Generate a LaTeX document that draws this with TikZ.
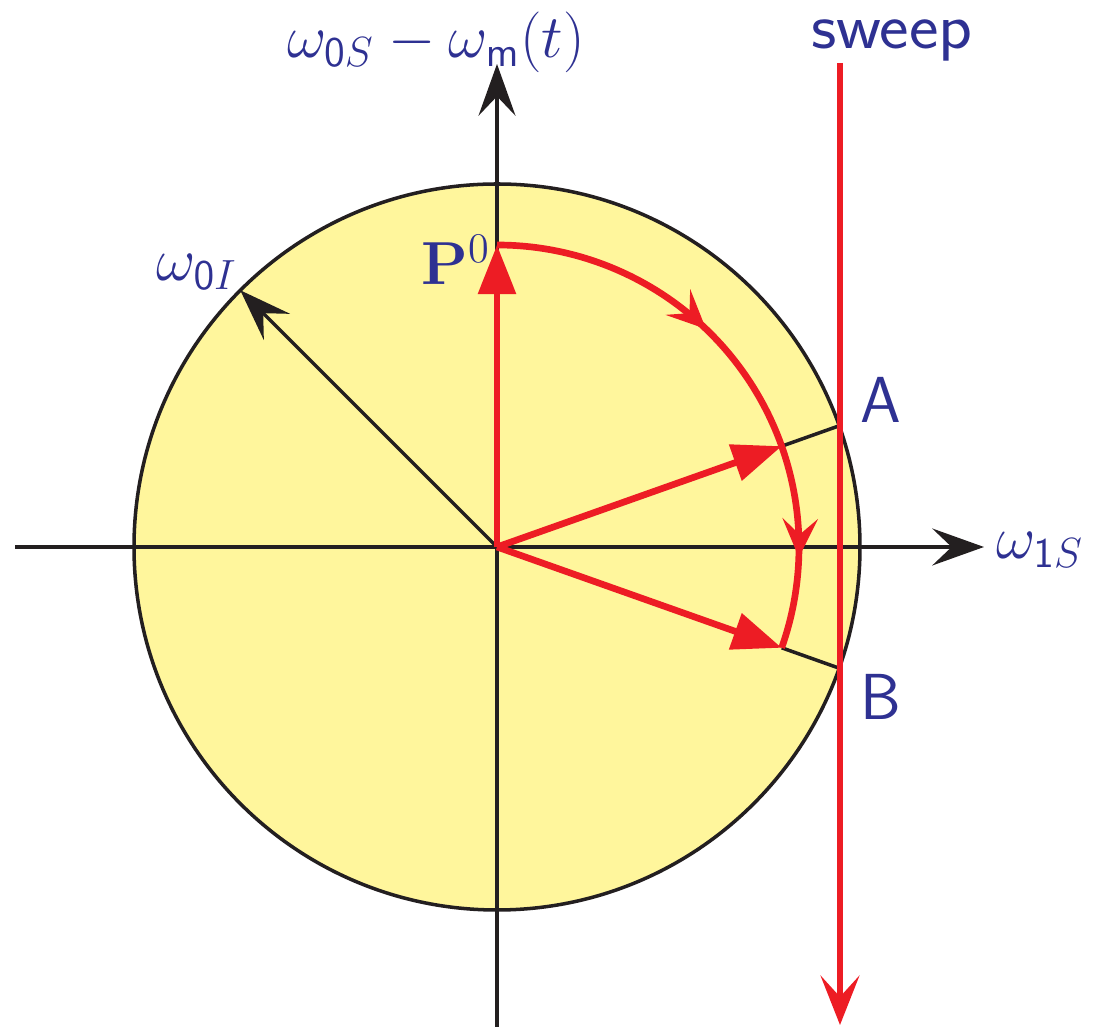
\documentclass[tikz,border=0pt]{standalone}
\usetikzlibrary{arrows.meta,decorations.markings}
\definecolor{navy}{RGB}{46,49,146}
\definecolor{rred}{RGB}{237,28,36}
\definecolor{pyellow}{RGB}{255,246,156}
\definecolor{ink}{RGB}{35,31,32}
\tikzset{
  axis/.style={draw=ink,line width=1pt,-{Stealth[length=14.7pt,width=10.5pt,inset=5.5pt]}},
  thinline/.style={draw=ink,line width=1pt},
  vec/.style={draw=rred,line width=1.9pt,-{Triangle[length=14pt,width=10.5pt]}},
  lbl/.style={text=navy,inner sep=0pt,font=\fontsize{18}{21}\selectfont},
  slbl/.style={text=navy,inner sep=0pt,font=\fontsize{18.5}{21}\selectfont\sffamily},
}
\begin{document}
\begin{tikzpicture}[x=0.01cm,y=0.01cm]
\useasboundingbox (0,0) rectangle (1108,1027);
\coordinate (O) at (497,480);
% disc
\fill[pyellow] (O) circle [radius=363];
\draw[ink,line width=1pt] (O) circle [radius=363];
% axes
\coordinate (xl) at (15,480);
\coordinate (xr) at (984,480);
\coordinate (yb) at (497,0);
\coordinate (yt) at (497,963);
\draw[axis] (xl) -- (xr);
\draw[axis] (yb) -- (yt);
% omega_0I radius
\coordinate (I) at (240.3,736.7);
\draw[axis] (O) -- (I);
% points
\coordinate (P) at (497,782);
\coordinate (Av) at (781.7,580.8);
\coordinate (Bv) at (781.7,379.2);
\coordinate (Ac) at (839.2,601.2);
\coordinate (Bc) at (839.2,358.8);
\draw[thinline] (Av) -- (Ac);
\draw[thinline] (Bv) -- (Bc);
% arc
\draw[rred,line width=1.9pt,
  postaction={decorate},
  decoration={markings,
    mark=at position 0.40 with {\arrow{Stealth[length=11pt,width=10pt,inset=4.5pt]}},
    mark=at position 0.84 with {\arrow{Stealth[length=11pt,width=10pt,inset=4.5pt]}}}]
  (P) arc [start angle=90,end angle=-19.5,radius=302];
% vectors
\draw[vec] (O) -- (P);
\draw[vec] (O) -- (Av);
\draw[vec] (O) -- (Bv);
% sweep line
\coordinate (st) at (840,964);
\coordinate (sb) at (840,2);
\draw[rred,line width=1.9pt,-{Stealth[length=14pt,width=11pt,inset=6pt]}] (st) -- (sb);
% labels
\node[lbl] (ylab) at (436,985) {$\omega_{\mathsf{0}S}-\omega_{\mathsf{m}}(t)$};
\node[slbl,anchor=base,xscale=1.08] (sw) at (892,978) {sweep};
\node[lbl] (p0) at (456,767) {$\mathbf{P}^0$};
\node[lbl] (w0i) at (197,755) {$\omega_{\mathsf{0}I}$};
\node[slbl] (la) at (881,627) {A};
\node[slbl] (lb) at (881,330) {B};
\node[lbl] (w1s) at (1040,477) {$\omega_{\mathsf{1}S}$};
\end{tikzpicture}
\end{document}
